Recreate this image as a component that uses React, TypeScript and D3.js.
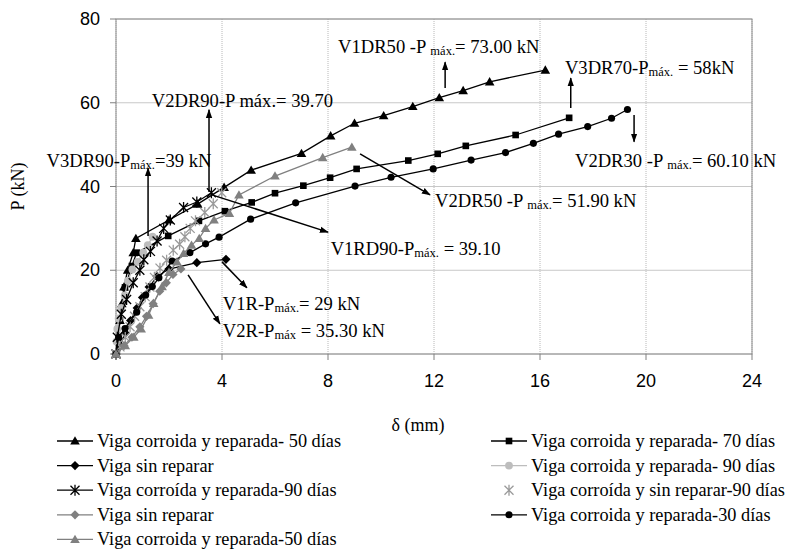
import React from "react";
import * as d3 from "d3";

type Pt = [number, number];

// Series data (deflection mm, load kN)
const triBlack50: Pt[] = [[0,0],[0.08,4],[0.15,8],[0.22,12],[0.3,16],[0.44,20],[0.65,24.2],[0.75,27.6],[2.0,32],[3.08,35.8],[4.08,39.8],[5.1,43.9],[7.0,47.9],[8.1,52.1],[9.0,55.1],[10.1,56.9],[11.2,59.1],[12.2,61.2],[13.1,62.9],[14.1,65.0],[16.2,67.8]];
const square70: Pt[] = [[0,0],[0.15,8],[0.34,15.9],[0.6,21],[0.78,24.2],[1.97,28.2],[3.13,31.8],[4.11,34.1],[5.12,36.2],[6.0,38.4],[7.07,40.2],[8.08,42.1],[9.08,44.2],[11.03,46.2],[12.14,47.8],[13.2,49.7],[15.08,52.3],[17.1,56.4]];
const diamondBlack: Pt[] = [[0,0],[0.15,2],[0.35,5],[0.55,8],[0.8,11],[1.0,13.5],[1.25,16],[1.55,18.5],[2.0,20.3],[3.05,21.8],[4.15,22.6]];
const circleLight90: Pt[] = [[0,0],[0.02,3],[0.05,6],[0.1,8.5],[0.2,11],[0.33,14],[0.45,17.5],[0.62,20.2],[0.82,22],[1.03,24.2],[1.2,26],[1.38,28]];
const starBlack90: Pt[] = [[0,0],[0.05,4],[0.2,9.5],[0.4,13],[0.65,17],[0.9,20],[1.05,22.5],[1.3,24.5],[1.55,27],[1.8,30],[2.05,32],[2.55,35],[3.05,36.3],[3.6,38.5]];
const starGray90: Pt[] = [[0,0],[0.15,1.7],[0.35,4],[0.53,6.5],[0.7,9],[0.9,11.3],[1.1,13.7],[1.28,16],[1.45,18.3],[1.66,20.5],[1.91,22.4],[2.16,24.8],[2.4,26.2],[2.6,28],[2.8,30],[3.0,31.8],[3.35,33.8],[3.67,35.9],[3.99,38.5]];
const diamondGray: Pt[] = [[0,0],[0.3,2],[0.6,4],[0.9,6.5],[1.15,9],[1.4,12],[1.65,15],[1.9,17],[2.15,19],[2.45,20.3]];
const circleBlack30: Pt[] = [[0,0],[0.1,4],[0.34,6.1],[0.78,10],[1.12,14.1],[1.37,16.1],[1.62,18.2],[2.12,22.2],[2.79,24.2],[3.38,26.3],[3.89,27.9],[5.08,32.2],[6.78,36.1],[9.02,40.1],[10.38,42.2],[11.97,44.2],[13.4,46.3],[14.7,48.1],[15.75,50.3],[16.7,52.5],[17.8,54.3],[18.7,56.3],[19.3,58.4]];
const triGray50: Pt[] = [[0,0],[0.35,2],[0.67,4],[0.95,6],[1.23,9.3],[1.42,12.1],[1.74,16.1],[2.0,19.5],[2.3,22],[2.55,24],[2.85,26],[3.14,27.6],[3.38,30],[3.7,32],[4.28,33.6],[4.64,38],[6.0,42.5],[7.8,46.9],[8.9,49.4]];

const legendLabels = [
  "Viga corroida y reparada- 50 días",
  "Viga corroida y reparada- 70 días",
  "Viga sin reparar",
  "Viga corroida y reparada- 90 días",
  "Viga corroída y reparada-90 días",
  "Viga corroída y sin reparar-90 días",
  "Viga sin reparar",
  "Viga corroida y reparada-30 días",
  "Viga corroida y reparada-50 días",
];

const xTicks = [0, 4, 8, 12, 16, 20, 24];
const yTicks = [0, 20, 40, 60, 80];

// annotations: text pieces [main, sub, rest], anchor in data units
const annTexts: { x: number; y: number; a: string; sub: string; b: string }[] = [
  { x: 8.38, y: 71.9, a: "V1DR50 -P ", sub: "máx.", b: "= 73.00 kN" },
  { x: 16.94, y: 66.9, a: "V3DR70-P", sub: "máx.", b: " = 58kN" },
  { x: 17.32, y: 44.7, a: "V2DR30 -P ", sub: "máx.", b: "= 60.10 kN" },
  { x: 1.35, y: 59.1, a: "V2DR90-P máx.= 39.70", sub: "", b: "" },
  { x: -2.62, y: 44.7, a: "V3DR90-P", sub: "máx.", b: "=39 kN" },
  { x: 12.04, y: 35.2, a: "V2DR50 -P ", sub: "máx.", b: "= 51.90 kN" },
  { x: 8.1, y: 23.6, a: "V1RD90-P", sub: "máx.", b: " = 39.10" },
  { x: 4.03, y: 10.5, a: "V1R-P", sub: "máx.", b: "= 29 kN" },
  { x: 4.03, y: 4.1, a: "V2R-P", sub: "máx", b: " = 35.30 kN" },
];
const annArrows: [number, number, number, number][] = [
  [12.42, 63.5, 12.42, 69.7],
  [17.16, 58.75, 17.16, 65.9],
  [19.55, 57.1, 19.55, 50.7],
  [3.51, 38.7, 3.51, 58.3],
  [1.21, 28.2, 1.21, 44.4],
  [9.21, 47.8, 11.85, 38.0],
  [3.62, 38.0, 8.0, 29.1],
  [4.0, 22.0, 4.94, 15.8],
  [2.72, 18.9, 3.92, 7.2],
];

const W = 789, H = 556;
const x = d3.scaleLinear().domain([0, 24]).range([116, 752]);
const y = d3.scaleLinear().domain([0, 80]).range([354, 19]);

type Marker = "tri" | "square" | "diamond" | "circle" | "star";
const series: { data: Pt[]; color: string; marker: Marker; line: boolean; size: number }[] = [
  { data: triBlack50, color: "#000", marker: "tri", line: true, size: 40 },
  { data: square70, color: "#000", marker: "square", line: true, size: 44 },
  { data: diamondBlack, color: "#000", marker: "diamond", line: true, size: 4.6 },
  { data: circleLight90, color: "#bdbdbd", marker: "circle", line: true, size: 48 },
  { data: starBlack90, color: "#000", marker: "star", line: true, size: 4.5 },
  { data: starGray90, color: "#9a9a9a", marker: "star", line: false, size: 4.5 },
  { data: diamondGray, color: "#808080", marker: "diamond", line: true, size: 4.6 },
  { data: circleBlack30, color: "#000", marker: "circle", line: true, size: 40 },
  { data: triGray50, color: "#808080", marker: "tri", line: true, size: 40 },
];

function MarkerShape({ m, color, size, cx, cy }: { m: Marker; color: string; size: number; cx: number; cy: number }) {
  if (m === "star") {
    const s = size;
    return (
      <path transform={`translate(${cx},${cy})`} d={`M${-s},${-s}L${s},${s}M${-s},${s}L${s},${-s}M0,${-s - 1}L0,${s + 1}`} stroke={color} strokeWidth={1.3} fill="none" />
    );
  }
  if (m === "diamond") {
    const s = size;
    return <path transform={`translate(${cx},${cy})`} d={`M0,${-s}L${s},0L0,${s}L${-s},0Z`} fill={color} />;
  }
  const type = m === "tri" ? d3.symbolTriangle : m === "square" ? d3.symbolSquare : d3.symbolCircle;
  const p = d3.symbol().type(type).size(size)() || "";
  return <path transform={`translate(${cx},${cy + (m === "tri" ? 0.8 : 0)})`} d={p} fill={color} />;
}

const SERIF = "Liberation Serif";
const SANS = "Liberation Sans";

export default function App() {
  const line = d3.line<Pt>().x((d) => x(d[0])).y((d) => y(d[1]));
  return (
    <svg width={W} height={H} style={{ position: "absolute", left: 0, top: 0, background: "#fff" }}>
      <defs>
        <marker id="ah" viewBox="0 0 10 10" refX="9" refY="5" markerWidth="6" markerHeight="6" orient="auto">
          <path d="M0,1.5L10,5L0,8.5Z" fill="#000" />
        </marker>
      </defs>
      <rect x={0} y={0} width={W} height={H} fill="#fff" />
      {yTicks.map((t) => (
        <line key={"gy" + t} x1={x(0)} x2={x(24)} y1={y(t)} y2={y(t)} stroke="#c8c8c8" strokeWidth={1} />
      ))}
      {xTicks.map((t) => (
        <line key={"gx" + t} x1={x(t)} x2={x(t)} y1={y(0)} y2={y(80)} stroke="#b8b8b8" strokeWidth={1} strokeDasharray="1,1" />
      ))}
      <rect x={x(0)} y={y(80)} width={x(24) - x(0)} height={y(0) - y(80)} fill="none" stroke="#8c8c8c" strokeWidth={1} />
      {yTicks.map((t) => (
        <g key={"ty" + t}>
          <line x1={x(0) - 6} x2={x(0)} y1={y(t)} y2={y(t)} stroke="#808080" />
          <text x={x(0) - 16} y={y(t) + 6} textAnchor="end" style={{ fontFamily: SANS, fontSize: 18 }}>{t}</text>
        </g>
      ))}
      {xTicks.map((t) => (
        <g key={"tx" + t}>
          <line x1={x(t)} x2={x(t)} y1={y(0)} y2={y(0) + 6} stroke="#808080" />
          <text x={x(t)} y={y(0) + 33} textAnchor="middle" style={{ fontFamily: SANS, fontSize: 18 }}>{t}</text>
        </g>
      ))}
      <text transform={`translate(24,${(y(0) + y(80)) / 2}) rotate(-90)`} textAnchor="middle" style={{ fontFamily: SERIF, fontSize: 18 }}>P (kN)</text>
      <text x={418} y={431} textAnchor="middle" style={{ fontFamily: SERIF, fontSize: 18 }}>δ (mm)</text>
      {series.map((s, i) => (
        <g key={"s" + i}>
          {s.line && <path d={line(s.data) || ""} fill="none" stroke={s.color} strokeWidth={1.3} />}
          {s.data.map((d, j) => (
            <MarkerShape key={j} m={s.marker} color={s.color} size={s.size} cx={x(d[0])} cy={y(d[1])} />
          ))}
        </g>
      ))}
      {annArrows.map((a, i) => (
        <line key={"ar" + i} x1={x(a[0])} y1={y(a[1])} x2={x(a[2])} y2={y(a[3])} stroke="#000" strokeWidth={1.5} markerEnd="url(#ah)" />
      ))}
      {annTexts.map((t, i) => (
        <text key={"an" + i} x={x(t.x)} y={y(t.y)} style={{ fontFamily: SERIF, fontSize: 18.6 }}>
          {t.a}
          {t.sub && <tspan style={{ fontSize: 12.5 }} dy={2}>{t.sub}</tspan>}
          {t.b && <tspan dy={t.sub ? -2 : 0}>{t.b}</tspan>}
        </text>
      ))}
      {series.map((s, i) => {
        const col = i % 2;
        const row = Math.floor(i / 2);
        const lx = col === 0 ? 57 : 491;
        const ly = 441 + row * 24.6;
        return (
          <g key={"lg" + i}>
            {s.line && <line x1={lx} x2={lx + 36} y1={ly} y2={ly} stroke={s.color} strokeWidth={1.3} />}
            <MarkerShape m={s.marker} color={s.color} size={s.size} cx={lx + 18} cy={ly} />
            <text x={lx + 40} y={ly + 6} style={{ fontFamily: SERIF, fontSize: 18.3 }}>{legendLabels[i]}</text>
          </g>
        );
      })}
    </svg>
  );
}
